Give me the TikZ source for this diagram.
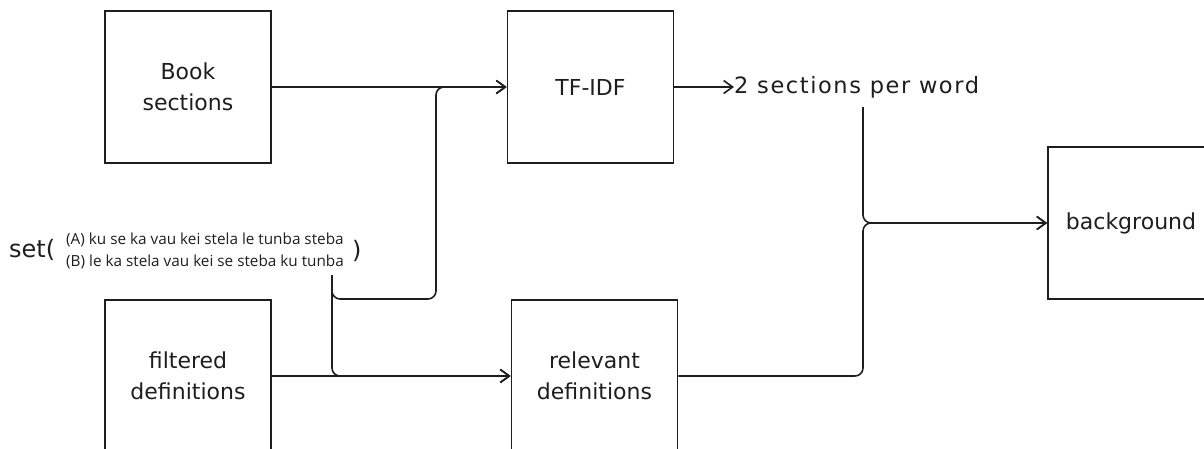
\documentclass[tikz,border=0pt]{standalone}
\usepackage{fontspec}
\setmainfont{DejaVu Sans}
\newfontfamily\optfont{Open Sans}
\usetikzlibrary{arrows.meta}
\definecolor{ink}{HTML}{1E1E1E}
\tikzset{
  box/.style={draw=ink, line width=1.7pt, minimum width=166pt, minimum height=152pt,
    inner sep=0pt, align=center, text=ink, font=\fontsize{22}{31}\selectfont},
  lbl/.style={inner sep=0pt, text=ink, font=\fontsize{22.5}{26}\selectfont\addfontfeature{LetterSpace=7}},
  opts/.style={inner sep=0pt, align=left, text=ink, font=\optfont\fontsize{15.3}{22}\selectfont},
  conn/.style={draw=ink, line width=1.6pt, rounded corners=8pt,
    -{Straight Barb[length=9pt,width=13pt,line width=1.6pt]}},
}
\begin{document}
\begin{tikzpicture}[x=1pt,y=-1pt]
\useasboundingbox (0,0) rectangle (1204,448);
\begin{scope}
\clip (0,0) rectangle (1204,448);
\node[box] (book) at (188,87) {Book\\sections};
\node[box] (tfidf) at (590.5,87) {TF-IDF};
\node[box] (filt) at (188,376) {filtered\\definitions};
\node[box] (rel) at (594.5,376) {relevant\\definitions};
\node[box] (bg) at (1131,223) {background};
\end{scope}

\node[lbl, anchor=west] (spw) at (734,87) {2 sections per word};
\node[lbl, anchor=west, font=\fontsize{24}{26}\selectfont] (setw) at (9,250) {set(};
\node[opts, anchor=west] (optlist) at (66,251) {(A) ku se ka vau kei stela le tunba steba\\(B) le ka stela vau kei se steba ku tunba};
\node[lbl, anchor=west, font=\fontsize{24}{26}\selectfont] (cpar) at (352,251) {)};

\coordinate (sb) at (332,275);
\coordinate (up) at (863,107);

\draw[conn] (book.east) -- (tfidf.west);
\draw[conn] (sb) -- (332,299) -- (436,299) -- (436,87) -- (tfidf.west);
\draw[conn] (sb) -- (332,376) -- (rel.west);
\draw[conn] (filt.east) -- (rel.west);
\draw[conn] (tfidf.east) -- (spw.west);
\draw[conn] (up) -- (863,223) -- (bg.west);
\draw[conn] (rel.east) -- (863,376) -- (863,223) -- (bg.west);
\end{tikzpicture}
\end{document}
